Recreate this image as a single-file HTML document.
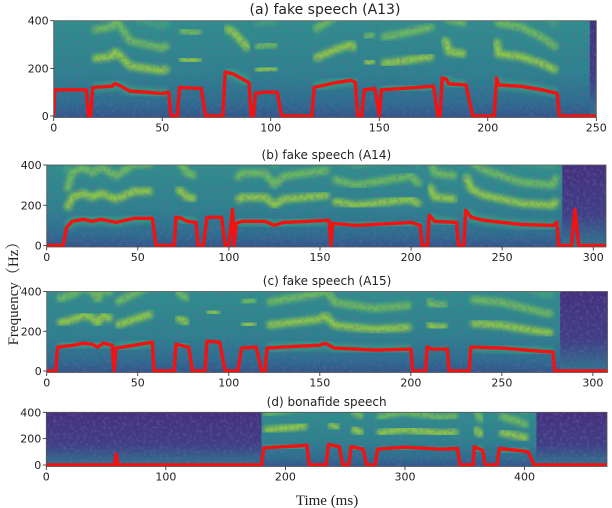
<!DOCTYPE html>
<html><head><meta charset="utf-8">
<style>
html,body{margin:0;padding:0;background:#fff;}
svg{display:block;}
text{font-family:"DejaVu Sans","Liberation Sans",sans-serif;fill:#222;}
.serif{font-family:"Liberation Serif","Noto Serif CJK SC",serif;}
</style></head>
<body>
<svg id="fig" width="612" height="508" viewBox="0 0 612 508" xmlns="http://www.w3.org/2000/svg">
<defs>
<filter id="blur" x="-5%" y="-30%" width="110%" height="160%"><feGaussianBlur stdDeviation="2.2"/></filter>
<filter id="noise" x="0" y="0" width="100%" height="100%">
<feTurbulence type="fractalNoise" baseFrequency="0.3" numOctaves="2" seed="3"/>
<feColorMatrix type="matrix" values="0 0 0 0 0.18  0 0 0 0 0.12  0 0 0 0 0.40  0 0 0 -2.4 1.3"/>
</filter>
<linearGradient id="bg" x1="0" y1="0" x2="0" y2="1">
<stop offset="0" stop-color="#2e8f8b"/><stop offset="0.55" stop-color="#2b828d"/><stop offset="0.85" stop-color="#2c6d8e"/><stop offset="1" stop-color="#32568a"/>
</linearGradient>
<linearGradient id="darkg" x1="0" y1="0" x2="0" y2="1">
<stop offset="0" stop-color="#44307c"/><stop offset="0.6" stop-color="#3f3f86"/><stop offset="1" stop-color="#2c7a8d"/>
</linearGradient>
</defs>
<text class="serif" transform="translate(18,290) rotate(-90)" text-anchor="middle" font-size="15">Frequency（Hz）</text>
<text class="serif" x="327" y="505" text-anchor="middle" font-size="15">Time (ms)</text>
</svg>
<script>
// ---- data: F0 contours (time in ms, frequency in Hz) ----
const timesA = [0,0.5,15,16,17,18,27,28,30,35,50,53,54,57,58,68,70,78,79,83,88,90,91,92,93,97,103,105,119,120,130,137,139,140,142,143,148,150,151,160,175,177,178,179,181,182,190,193,203,204,205,215,225,232,233,250];
const f0A    = [0,110,110,0,0,120,125,135,130,105,95,100,0,0,120,115,0,0,185,175,150,140,0,0,95,100,100,0,0,120,140,150,140,0,0,110,115,0,110,115,125,0,0,160,155,135,130,0,0,160,130,125,110,95,0,0];
const timesB = [0,9,11,14,20,25,30,38,48,58,60,70,71,74,77,82,83,86,88,96,98,100,102,103,104,107,120,125,130,155,156,157,170,200,205,206,209,210,213,225,226,229,230,233,240,260,278,280,281,288,290,292,307];
const f0B    = [0,0,90,120,130,120,130,115,135,135,0,0,140,135,120,115,0,0,140,140,0,0,180,0,110,120,120,100,115,125,0,110,100,115,100,0,0,150,120,115,0,0,175,140,125,105,100,115,0,0,180,0,0];
const timesC = [0,5,6,15,20,25,28,31,36,37,38,45,58,59,70,71,78,80,87,88,95,98,105,107,115,118,120,121,130,150,153,158,180,200,201,208,209,212,220,221,232,233,250,270,278,279,308];
const f0C    = [0,0,120,130,140,135,120,140,130,0,115,125,145,0,0,135,120,0,0,150,145,0,0,115,120,0,0,115,120,130,140,115,105,110,0,0,120,110,110,0,0,120,115,100,95,0,0];
const timesD = [0,57,58.5,60,180,182,190,200,210,218,220,234,236,245,248,253,255,265,268,275,277,290,300,330,344,346,357,358,365,367,377,379,395,403,408,469];
const f0D    = [0,0,85,0,0,130,135,140,145,150,0,0,155,140,0,0,140,120,0,0,120,130,135,120,125,0,0,140,110,0,0,125,110,100,0,0];
const xTicksA = [0,50,100,150,200,250];
const xTicksBC = [0,50,100,150,200,250,300];
const xTicksD = [0,100,200,300,400];
const yTicks = [0,200,400];
// dark (low energy) time spans [start,end] in ms
const darkA = [[247,250]];
const darkB = [[283,307]];
const darkC = [[282,308]];
const darkD = [[0,180],[410,469]];

const NS = 'http://www.w3.org/2000/svg';
const svg = document.getElementById('fig');
function mk(tag, attrs, parent){const e=document.createElementNS(NS,tag);for(const k in attrs)e.setAttribute(k,attrs[k]);(parent||svg).appendChild(e);return e;}

const panels = [
 {key:'a', title:'(a) fake speech (A13)', tsize:14, ty:14, x0:53.7, x1:596.3, top:20.7, bot:117.5, xmax:250, times:timesA, f0:f0A, ticks:xTicksA, dark:darkA},
 {key:'b', title:'(b) fake speech (A14)', tsize:12, ty:159, x0:46.7, x1:606, top:165, bot:247, xmax:307, times:timesB, f0:f0B, ticks:xTicksBC, dark:darkB},
 {key:'c', title:'(c) fake speech (A15)', tsize:12, ty:285, x0:46.7, x1:607.5, top:291.5, bot:372.5, xmax:308, times:timesC, f0:f0C, ticks:xTicksBC, dark:darkC},
 {key:'d', title:'(d) bonafide speech', tsize:12, ty:406, x0:46.3, x1:607, top:412.3, bot:466.5, xmax:469, times:timesD, f0:f0D, ticks:xTicksD, dark:darkD}
];

panels.forEach(p=>{
  const zero = p.bot - 1.5;
  const xs = t => p.x0 + t/p.xmax*(p.x1-p.x0);
  const ys = f => zero - f/400*(zero-p.top);
  const g = mk('g',{});
  
  
  const cp = mk('clipPath',{id:'clip-'+p.key},g);
  mk('rect',{x:p.x0,y:p.top,width:p.x1-p.x0,height:p.bot-p.top},cp);
  const inner = mk('g',{'clip-path':'url(#clip-'+p.key+')'},g);
  const bg = mk('rect',{x:p.x0,y:p.top,width:p.x1-p.x0,height:p.bot-p.top,fill:'url(#bg)'},inner);
  
  
  p.dark.forEach(d=>{
    const r = mk('rect',{x:xs(d[0]),y:p.top,width:xs(d[1])-xs(d[0]),height:p.bot-p.top,fill:'url(#darkg)'},inner);
    
    
  });
  // harmonics from voiced runs
  const runs=[];let cur=[];
  for(let i=0;i<p.times.length;i++){
    if(p.f0[i]>0){cur.push(i);}else{if(cur.length>1)runs.push(cur);cur=[];}
  }
  if(cur.length>1)runs.push(cur);
  runs.forEach(run=>{
    [[1,'#3fbc73',0.45,10],[2,'#a8db34',0.8,7],[3,'#8ed645',0.65,7],[4,'#5cc863',0.35,8]].forEach(h=>{
      const pts = run.map(i=>xs(p.times[i]).toFixed(1)+','+ys(p.f0[i]*h[0]).toFixed(1)).join(' ');
      const hl = mk('polyline',{points:pts,fill:'none',stroke:h[1],'stroke-width':h[3],opacity:h[2],filter:'url(#blur)','stroke-linejoin':'round'},inner);
      
      
    });
  });
  mk('rect',{x:p.x0,y:p.top,width:p.x1-p.x0,height:p.bot-p.top,filter:'url(#noise)',opacity:0.5},inner);
  const pts = p.times.map((t,i)=>xs(t).toFixed(1)+','+ys(p.f0[i]).toFixed(1)).join(' ');
  const line = mk('polyline',{points:pts,fill:'none',stroke:'#f21212','stroke-width':3.4,'stroke-linejoin':'round'},inner);
  
  
  const fr = mk('rect',{x:p.x0,y:p.top,width:p.x1-p.x0,height:p.bot-p.top,fill:'none',stroke:'#555','stroke-width':0.8},g);
  
  
  const tt = mk('text',{x:(p.x0+p.x1)/2,y:p.ty,'text-anchor':'middle','font-size':p.tsize},g);
  tt.textContent = p.title;
  
  
  p.ticks.forEach(v=>{
    const x=xs(v);
    mk('line',{x1:x,x2:x,y1:p.bot,y2:p.bot+3.5,stroke:'#222','stroke-width':0.8},g);
    const t = mk('text',{x:x,y:p.bot+14,'text-anchor':'middle','font-size':11},g);
    t.textContent=v;
    
    
  });
  yTicks.forEach(v=>{
    const y=ys(v);
    mk('line',{x1:p.x0-3.5,x2:p.x0,y1:y,y2:y,stroke:'#222','stroke-width':0.8},g);
    const t = mk('text',{x:p.x0-5,y:y+4,'text-anchor':'end','font-size':11},g);
    t.textContent=v;
    
    
  });
});
</script>
</body></html>
